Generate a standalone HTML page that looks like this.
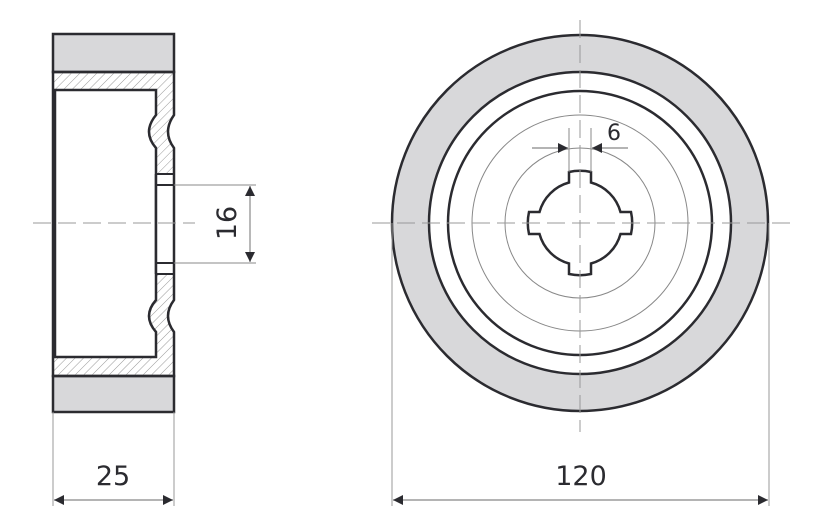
<!DOCTYPE html>
<html><head><meta charset="utf-8"><style>
html,body{margin:0;padding:0;background:#fff;}
svg{display:block;}
text{font-family:"DejaVu Sans","Liberation Sans",sans-serif;fill:#2b2b30;}
</style></head><body>
<svg width="822" height="522" viewBox="0 0 822 522" xmlns="http://www.w3.org/2000/svg">
<defs>
<pattern id="h" width="6" height="6" patternUnits="userSpaceOnUse" patternTransform="rotate(45)">
<line x1="0" y1="0" x2="0" y2="6" stroke="#999" stroke-width="1"/>
</pattern>
<marker id="a" viewBox="0 0 10 10" refX="10" refY="5" markerWidth="10" markerHeight="10" markerUnits="userSpaceOnUse" orient="auto-start-reverse">
<path d="M0,0 L10,5 L0,10 z" fill="#2b2b30"/>
</marker>
</defs>

<rect x="53" y="34" width="121" height="38" fill="#d8d8da" stroke="#2b2b30" stroke-width="2.5"/>
<rect x="53" y="376" width="121" height="36" fill="#d8d8da" stroke="#2b2b30" stroke-width="2.5"/>
<path d="M53,72 H174 V115 Q162,132 174,148 V300 Q162,316 174,332 V376 H53 Z" fill="url(#h)" stroke="none"/>
<path d="M55,90 H156 V115 Q142,132 156,148 V300 Q142,316 156,332 V357 H55 Z" fill="#fff" stroke="#2b2b30" stroke-width="2.5"/>
<rect x="156" y="174" width="18" height="100" fill="#fff"/>
<line x1="156" y1="174" x2="156" y2="274" stroke="#2b2b30" stroke-width="2.5"/>
<line x1="156" y1="174" x2="174" y2="174" stroke="#2b2b30" stroke-width="2"/>
<line x1="156" y1="185" x2="174" y2="185" stroke="#2b2b30" stroke-width="2"/>
<line x1="156" y1="263" x2="174" y2="263" stroke="#2b2b30" stroke-width="2"/>
<line x1="156" y1="274" x2="174" y2="274" stroke="#2b2b30" stroke-width="2"/>
<path d="M53,72 H174 V115 Q162,132 174,148 V300 Q162,316 174,332 V376 H53 Z" fill="none" stroke="#2b2b30" stroke-width="2.5"/>
<line x1="33" y1="223" x2="195" y2="223" stroke="#999" stroke-width="1" stroke-dasharray="18,7"/>
<line x1="174" y1="185" x2="256" y2="185" stroke="#888" stroke-width="1"/>
<line x1="174" y1="263" x2="256" y2="263" stroke="#888" stroke-width="1"/>
<line x1="250" y1="186" x2="250" y2="262" stroke="#888" stroke-width="1.2" marker-start="url(#a)" marker-end="url(#a)"/>
<text x="0" y="0" font-size="27" text-anchor="middle" transform="translate(236,223) rotate(-90)">16</text>
<line x1="53" y1="412" x2="53" y2="506" stroke="#999" stroke-width="1"/>
<line x1="174" y1="412" x2="174" y2="506" stroke="#999" stroke-width="1"/>
<line x1="54" y1="500" x2="173" y2="500" stroke="#888" stroke-width="1.2" marker-start="url(#a)" marker-end="url(#a)"/>
<text x="113" y="485" font-size="27" text-anchor="middle">25</text>

<circle cx="580" cy="223" r="169.5" fill="none" stroke="#d8d8da" stroke-width="37"/>
<circle cx="580" cy="223" r="188" fill="none" stroke="#2b2b30" stroke-width="2.5"/>
<circle cx="580" cy="223" r="151" fill="none" stroke="#2b2b30" stroke-width="2.5"/>
<circle cx="580" cy="223" r="132" fill="none" stroke="#2b2b30" stroke-width="2.5"/>
<circle cx="580" cy="223" r="108" fill="none" stroke="#888" stroke-width="1"/>
<circle cx="580" cy="223" r="75" fill="none" stroke="#888" stroke-width="1"/>
<path d="M591,182.5 V172 A51,51 0 0 0 569,172 V182.5 A42,42 0 0 0 539.5,212 H529 A51,51 0 0 0 529,234 H539.5 A42,42 0 0 0 569,263.5 V274 A51,51 0 0 0 591,274 V263.5 A42,42 0 0 0 620.5,234 H631 A51,51 0 0 0 631,212 H620.5 A42,42 0 0 0 591,182.5 Z" fill="#fff" stroke="#2b2b30" stroke-width="2.5"/>
<line x1="372" y1="223" x2="790" y2="223" stroke="#999" stroke-width="1" stroke-dasharray="18,7"/>
<line x1="580" y1="20" x2="580" y2="432" stroke="#999" stroke-width="1" stroke-dasharray="18,7"/>
<line x1="569" y1="128" x2="569" y2="172" stroke="#888" stroke-width="1"/>
<line x1="591" y1="128" x2="591" y2="172" stroke="#888" stroke-width="1"/>
<line x1="532" y1="148" x2="568" y2="148" stroke="#888" stroke-width="1.2" marker-end="url(#a)"/>
<line x1="628" y1="148" x2="592" y2="148" stroke="#888" stroke-width="1.2" marker-end="url(#a)"/>
<text x="614" y="140" font-size="22" text-anchor="middle">6</text>
<line x1="392" y1="223" x2="392" y2="506" stroke="#999" stroke-width="1"/>
<line x1="769" y1="223" x2="769" y2="506" stroke="#999" stroke-width="1"/>
<line x1="393" y1="500" x2="768" y2="500" stroke="#888" stroke-width="1.2" marker-start="url(#a)" marker-end="url(#a)"/>
<text x="581" y="485" font-size="27" text-anchor="middle">120</text>
</svg>
</body></html>
